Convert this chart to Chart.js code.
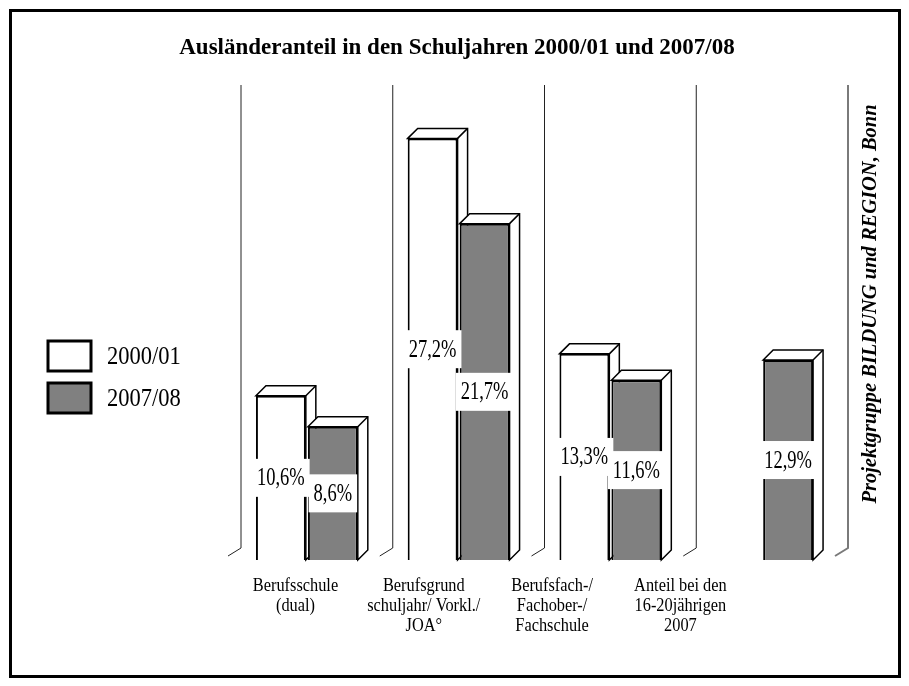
<!DOCTYPE html>
<html>
<head>
<meta charset="utf-8">
<script src="https://cdn.jsdelivr.net/npm/chart.js@4/dist/chart.umd.min.js"></script>
<style>
  html, body { margin: 0; padding: 0; background: #fff; }
  canvas { display: block; }
</style>
</head>
<body>
<canvas id="chart" width="909" height="686"></canvas>
<script>
// data
const categories = [
  ['Berufsschule', '(dual)'],
  ['Berufsgrund', 'schuljahr/ Vorkl./', 'JOA°'],
  ['Berufsfach-/', 'Fachober-/', 'Fachschule'],
  ['Anteil bei den', '16-20jährigen', '2007']
];
const seriesNames = ['2000/01', '2007/08'];
const values2000 = [10.6, 27.2, 13.3, null];
const values2007 = [8.6, 21.7, 11.6, 12.9];

const titleText = 'Ausländeranteil in den Schuljahren 2000/01 und 2007/08';
const sourceText = 'Projektgruppe BILDUNG und REGION, Bonn';

const DEPTH = 10;
const SERIF = '"Liberation Serif", "Times New Roman", serif';

const fmt = v => v.toFixed(1).replace('.', ',') + '%';

// the original type is a bit narrow, so text gets squeezed sideways
function narrowText(ctx, text, x, y, squeeze) {
  ctx.save();
  ctx.translate(x, y);
  ctx.scale(squeeze, 1);
  ctx.fillText(text, 0, 0);
  ctx.restore();
}

// 3d faces, back wall lines, labels, legend ...
const pseudo3d = {
  id: 'pseudo3d',
  beforeDatasetsDraw(chart) {
    const ctx = chart.ctx;
    const area = chart.chartArea;
    const xs = chart.scales.x;
    const half = (xs.getPixelForValue(1) - xs.getPixelForValue(0)) / 2;

    // back wall separators with the little floor ticks
    ctx.save();
    for (let i = 0; i <= categories.length; i++) {
      const bx = (i < categories.length ? xs.getPixelForValue(i) - half : xs.getPixelForValue(i - 1) + half) + DEPTH;
      const last = i === categories.length;
      ctx.strokeStyle = last ? '#7a7a7a' : '#222';
      ctx.lineWidth = last ? 2 : 1;
      ctx.beginPath();
      ctx.moveTo(bx, area.top - DEPTH);
      ctx.lineTo(bx, area.bottom - 12);
      ctx.lineTo(bx - 13, area.bottom - 4);
      ctx.stroke();
    }
    ctx.restore();

    // top and side faces
    ctx.save();
    ctx.lineWidth = 1.5;
    ctx.strokeStyle = '#000';
    ctx.fillStyle = '#fff';
    chart.data.datasets.forEach((ds, di) => {
      const meta = chart.getDatasetMeta(di);
      meta.data.forEach((bar, i) => {
        if (ds.data[i] == null) return;
        const p = bar.getProps(['x', 'y', 'base', 'width'], true);
        const l = p.x - p.width / 2, r = p.x + p.width / 2;
        ctx.beginPath();
        ctx.moveTo(l, p.y);
        ctx.lineTo(l + DEPTH, p.y - DEPTH);
        ctx.lineTo(r + DEPTH, p.y - DEPTH);
        ctx.lineTo(r + DEPTH, p.base - DEPTH);
        ctx.lineTo(r, p.base);
        ctx.lineTo(r, p.y);
        ctx.closePath();
        ctx.fill();
        ctx.stroke();
        ctx.beginPath();
        ctx.moveTo(r, p.y);
        ctx.lineTo(r + DEPTH, p.y - DEPTH);
        ctx.stroke();
      });
    });
    ctx.restore();
  },
  afterDatasetsDraw(chart) {
    const ctx = chart.ctx;
    // value labels on white boxes
    ctx.save();
    ctx.font = '25px ' + SERIF;
    ctx.textAlign = 'center';
    ctx.textBaseline = 'middle';
    const squeeze = 0.74;
    chart.data.datasets.forEach((ds, di) => {
      const meta = chart.getDatasetMeta(di);
      meta.data.forEach((bar, i) => {
        const v = ds.data[i];
        if (v == null) return;
        const p = bar.getProps(['x', 'y', 'base'], true);
        const cy = (p.y + p.base) / 2;
        const t = fmt(v);
        const w = ctx.measureText(t).width * squeeze;
        ctx.fillStyle = '#fff';
        ctx.fillRect(p.x - w / 2 - 5, cy - 19, w + 10, 38);
        ctx.fillStyle = '#000';
        narrowText(ctx, t, p.x, cy + 1, squeeze);
      });
    });
    ctx.restore();
  },
  afterDraw(chart) {
    const ctx = chart.ctx;
    ctx.save();

    // frame
    ctx.strokeStyle = '#000';
    ctx.lineWidth = 3;
    ctx.strokeRect(10.5, 10.5, 889, 666);

    // title
    ctx.fillStyle = '#000';
    ctx.font = 'bold 23px ' + SERIF;
    ctx.textAlign = 'center';
    ctx.textBaseline = 'middle';
    ctx.fillText(titleText, 457, 48);

    // category labels (they sit a bit left of the groups in the original)
    ctx.font = '19px ' + SERIF;
    categories.forEach((lines, i) => {
      const cx = 295.5 + i * 128.3;
      lines.forEach((s, j) => narrowText(ctx, s, cx, 586 + j * 20, 0.86));
    });

    // legend
    chart.data.datasets.forEach((ds, di) => {
      const top = 341 + di * 42;
      ctx.fillStyle = ds.backgroundColor;
      ctx.fillRect(48, top, 43, 30);
      ctx.lineWidth = 3;
      ctx.strokeStyle = '#000';
      ctx.strokeRect(48, top, 43, 30);
      ctx.fillStyle = '#000';
      ctx.font = '25px ' + SERIF;
      ctx.textAlign = 'left';
      narrowText(ctx, ds.label, 107, top + 16, 0.9);
    });

    // source note, rotated
    ctx.translate(871, 304);
    ctx.rotate(-Math.PI / 2);
    ctx.font = 'bold italic 20.5px ' + SERIF;
    ctx.textAlign = 'center';
    ctx.fillText(sourceText, 0, 0);
    ctx.restore();
  }
};

const ctx = document.getElementById('chart').getContext('2d');

new Chart(ctx, {
  type: 'bar',
  data: {
    labels: categories,
    datasets: [
      {
        label: seriesNames[0],
        data: values2000,
        backgroundColor: '#ffffff',
        borderColor: '#000000',
        borderWidth: 2
      },
      {
        label: seriesNames[1],
        data: values2007,
        backgroundColor: '#808080',
        borderColor: '#000000',
        borderWidth: 2
      }
    ]
  },
  options: {
    responsive: false,
    animation: false,
    devicePixelRatio: 1,
    categoryPercentage: 0.685,
    barPercentage: 0.96,
    layout: { padding: { left: 231, right: 71, top: 95, bottom: 126 } },
    scales: {
      x: { display: false },
      y: { display: false, min: 0, max: 30 }
    },
    plugins: {
      legend: { display: false },
      tooltip: { enabled: false }
    }
  },
  plugins: [pseudo3d]
});
</script>
</body>
</html>
